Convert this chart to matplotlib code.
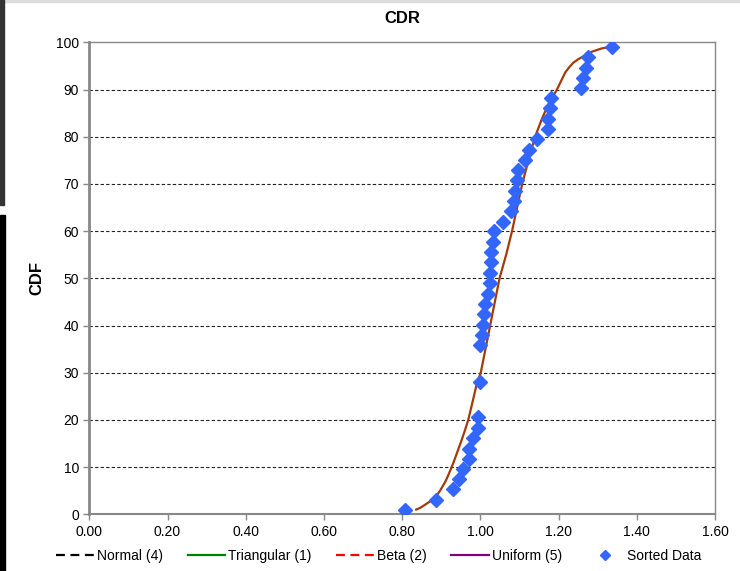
import matplotlib
matplotlib.use("Agg")
import matplotlib.pyplot as plt
from matplotlib.lines import Line2D
from matplotlib.patches import Rectangle

plt.rcParams["font.family"] = ["Liberation Sans", "DejaVu Sans"]

# Sorted CDR observations and their plotting positions (%)
sorted_cdr = [0.808, 0.886, 0.931, 0.945, 0.955, 0.970, 0.972, 0.982, 0.995, 0.995,
              0.999, 0.999, 1.004, 1.008, 1.010, 1.011, 1.019, 1.025, 1.025, 1.028,
              1.028, 1.033, 1.036, 1.059, 1.078, 1.086, 1.089, 1.093, 1.097, 1.113,
              1.125, 1.144, 1.172, 1.172, 1.177, 1.180, 1.258, 1.263, 1.270, 1.276,
              1.336]
sorted_cdf = [0.85, 3.12, 5.46, 7.43, 9.70, 11.74, 13.86, 16.20, 18.32, 20.59,
              28.03, 35.82, 38.00, 40.13, 42.40, 44.52, 46.71, 48.98, 51.10, 53.35,
              55.48, 57.69, 59.94, 61.93, 64.18, 66.31, 68.58, 70.76, 72.89, 75.16,
              77.28, 79.55, 81.68, 83.80, 85.99, 88.11, 90.23, 92.51, 94.63, 96.96,
              99.09]

# Fitted distribution CDF
fit_x = [0.836, 0.847, 0.858, 0.869, 0.880, 0.889, 0.897, 0.904, 0.911, 0.917,
         0.923, 0.931, 0.938, 0.945, 0.952, 0.961, 0.969, 0.980, 0.991, 1.001,
         1.013, 1.025, 1.037, 1.049, 1.066, 1.081, 1.094, 1.107, 1.123, 1.140,
         1.157, 1.166, 1.175, 1.186, 1.196, 1.207, 1.217, 1.227, 1.238, 1.250,
         1.263, 1.285, 1.310, 1.336]
fit_cdf = [1.0, 1.4, 2.0, 2.6, 3.3, 4.1, 5.0, 6.0, 7.0, 8.1,
           9.3, 10.9, 12.5, 14.1, 15.7, 17.9, 20.0, 23.8, 27.7, 30.0,
           35.0, 40.0, 45.0, 50.0, 55.0, 60.0, 65.0, 70.0, 75.0, 80.0,
           83.7, 85.4, 87.0, 88.6, 90.0, 91.9, 93.6, 94.7, 95.7, 96.4,
           97.0, 98.0, 98.7, 99.1]

x_ticks = [0.0, 0.2, 0.4, 0.6, 0.8, 1.0, 1.2, 1.4, 1.6]
y_ticks = [0, 10, 20, 30, 40, 50, 60, 70, 80, 90, 100]

legend_labels = ["Normal (4)", "Triangular (1)", "Beta (2)", "Uniform (5)", "Sorted Data"]

fig = plt.figure(figsize=(7.40, 5.71), dpi=100)
ax = fig.add_axes([0.1207, 0.0993, 0.9662 - 0.1207, 0.9259 - 0.0993])

# horizontal dashed grid
for yv in y_ticks[1:-1]:
    ax.axhline(yv, color="#222222", lw=0.8, ls=(0, (3, 2)), zorder=1)

ax.plot(fit_x, fit_cdf, color="#A33A0A", lw=1.6, zorder=3,
        solid_joinstyle="round")
ax.plot(sorted_cdr, sorted_cdf, ls="none", marker="D", ms=7,
        color="#3366FF", mec="#3366FF", zorder=4)

ax.set_xlim(0, 1.6)
ax.set_ylim(0, 100)
ax.set_xticks(x_ticks)
ax.set_xticklabels([f"{v:.2f}" for v in x_ticks])
ax.set_yticks(y_ticks)
ax.tick_params(axis="both", labelsize=10, colors="#888888", labelcolor="black",
               length=4, width=1)
ax.tick_params(axis="x", pad=4)

for side in ["top", "right"]:
    ax.spines[side].set_color("#888888")
    ax.spines[side].set_linewidth(1.0)
ax.spines["left"].set_color("#888888")
ax.spines["left"].set_linewidth(2.0)
ax.spines["bottom"].set_color("#888888")
ax.spines["bottom"].set_linewidth(1.5)

ax.set_title("CDR", fontsize=12, fontweight="bold", pad=14)
ax.set_ylabel("CDF", fontsize=12, fontweight="bold", labelpad=8)

handles = [
    Line2D([], [], color="black", lw=1.6, ls=(0, (4, 2.5))),
    Line2D([], [], color="#008000", lw=1.6),
    Line2D([], [], color="#FF0000", lw=1.6, ls=(0, (4, 2.5))),
    Line2D([], [], color="#800080", lw=1.6),
    Line2D([], [], ls="none", marker="D", ms=5, color="#3366FF"),
]
fig.legend(handles, legend_labels, loc="center", bbox_to_anchor=(0.512, 0.026),
           ncol=5, frameon=False, fontsize=10, handlelength=2.7,
           handletextpad=0.2, columnspacing=1.8)

# window frame edges
fig.patches.append(Rectangle((0, 0.9965), 1, 0.0035, transform=fig.transFigure,
                             color="#DDDDDD", zorder=0))
fig.patches.append(Rectangle((0, 1 - 205 / 571), 4 / 740, 205 / 571,
                             transform=fig.transFigure, color="#333333", zorder=0))
fig.patches.append(Rectangle((0, 0), 5 / 740, 1 - 215 / 571,
                             transform=fig.transFigure, color="#000000", zorder=0))

fig.savefig("out.png", dpi=100)
